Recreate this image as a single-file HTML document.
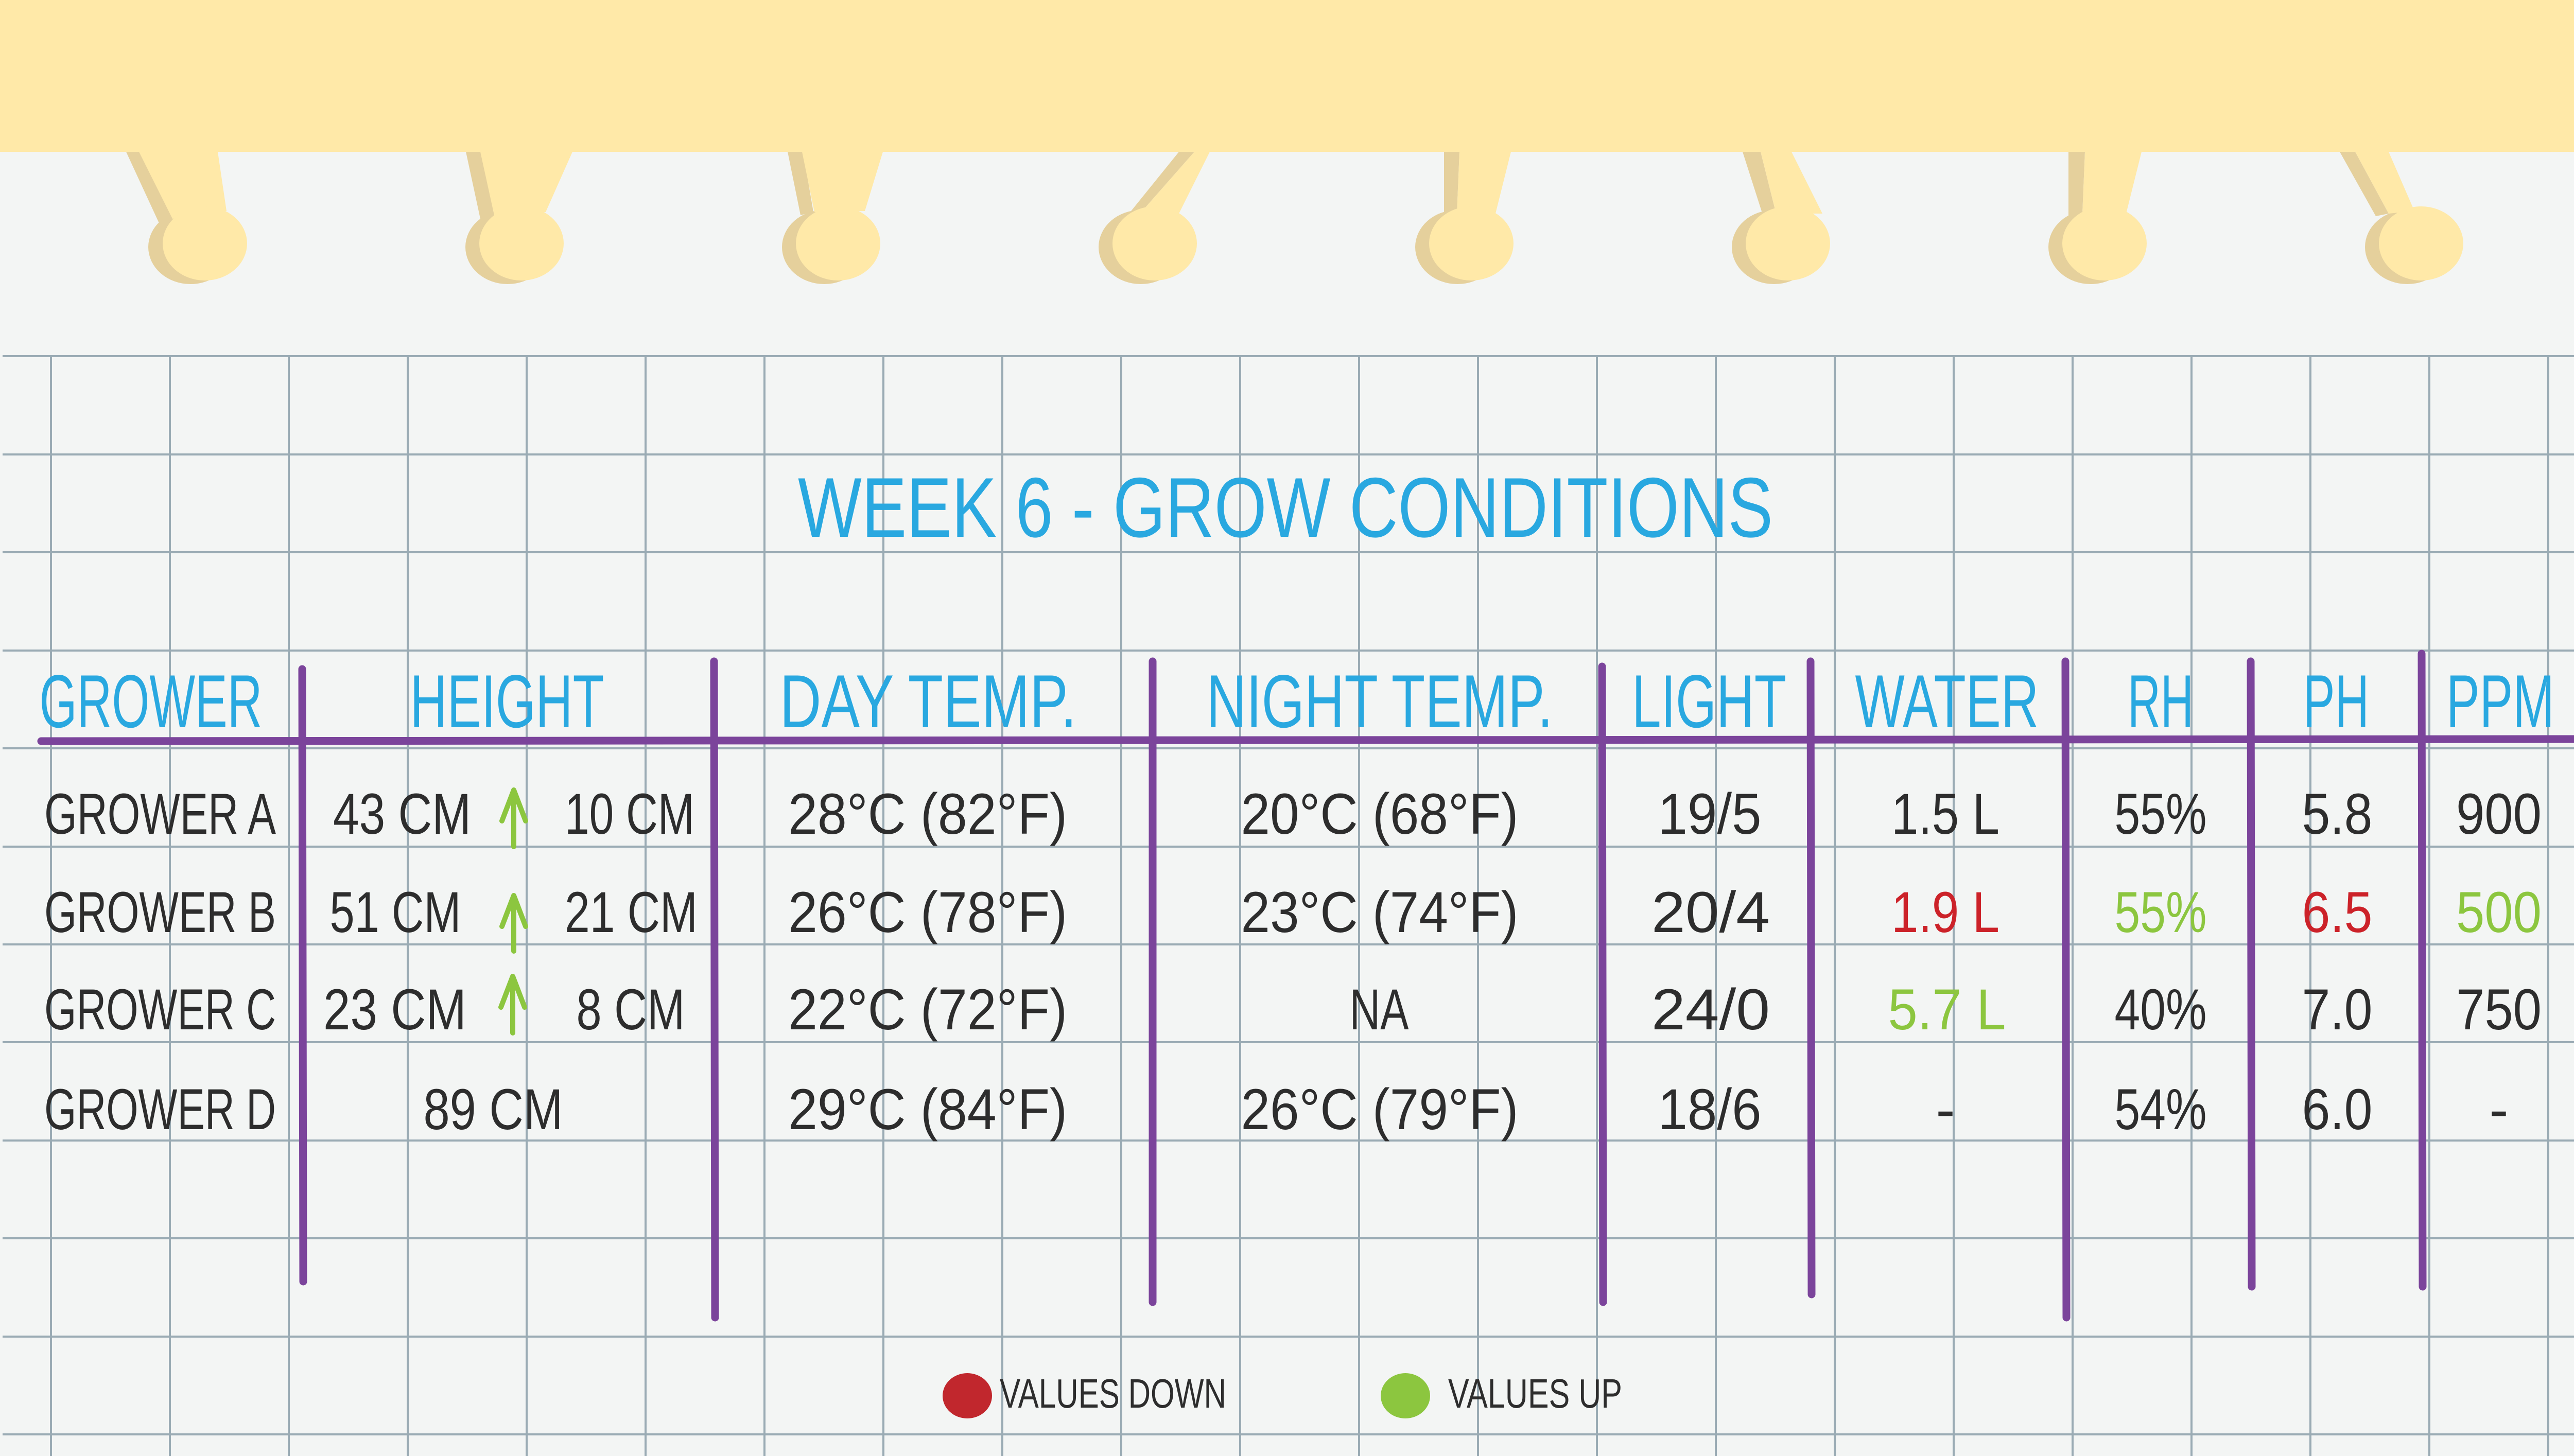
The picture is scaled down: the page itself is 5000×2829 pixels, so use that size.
<!DOCTYPE html>
<html><head><meta charset="utf-8"><style>
html,body{margin:0;padding:0;background:#f3f5f4;}
svg{display:block}
text{font-family:"Liberation Sans Narrow","Liberation Sans",sans-serif;}
</style></head><body>
<svg width="5000" height="2829" viewBox="0 0 5000 2829" xmlns="http://www.w3.org/2000/svg">
<rect width="5000" height="2829" fill="#f3f5f4"/>
<g stroke="#9aabb4" stroke-width="4">
<line x1="5" y1="692" x2="5000" y2="692"/><line x1="5" y1="883" x2="5000" y2="883"/><line x1="5" y1="1073" x2="5000" y2="1073"/><line x1="5" y1="1264" x2="5000" y2="1264"/><line x1="5" y1="1454" x2="5000" y2="1454"/><line x1="5" y1="1645" x2="5000" y2="1645"/><line x1="5" y1="1835" x2="5000" y2="1835"/><line x1="5" y1="2025" x2="5000" y2="2025"/><line x1="5" y1="2216" x2="5000" y2="2216"/><line x1="5" y1="2406" x2="5000" y2="2406"/><line x1="5" y1="2597" x2="5000" y2="2597"/><line x1="5" y1="2787" x2="5000" y2="2787"/>
<line x1="99" y1="692" x2="99" y2="2829"/><line x1="330" y1="692" x2="330" y2="2829"/><line x1="561" y1="692" x2="561" y2="2829"/><line x1="792" y1="692" x2="792" y2="2829"/><line x1="1023" y1="692" x2="1023" y2="2829"/><line x1="1254" y1="692" x2="1254" y2="2829"/><line x1="1485" y1="692" x2="1485" y2="2829"/><line x1="1716" y1="692" x2="1716" y2="2829"/><line x1="1947" y1="692" x2="1947" y2="2829"/><line x1="2178" y1="692" x2="2178" y2="2829"/><line x1="2409" y1="692" x2="2409" y2="2829"/><line x1="2640" y1="692" x2="2640" y2="2829"/><line x1="2871" y1="692" x2="2871" y2="2829"/><line x1="3102" y1="692" x2="3102" y2="2829"/><line x1="3333" y1="692" x2="3333" y2="2829"/><line x1="3564" y1="692" x2="3564" y2="2829"/><line x1="3795" y1="692" x2="3795" y2="2829"/><line x1="4026" y1="692" x2="4026" y2="2829"/><line x1="4257" y1="692" x2="4257" y2="2829"/><line x1="4488" y1="692" x2="4488" y2="2829"/><line x1="4719" y1="692" x2="4719" y2="2829"/><line x1="4950" y1="692" x2="4950" y2="2829"/>
</g>
<rect x="0" y="0" width="5000" height="295" fill="#ffe9a8"/>
<g>
<g fill="#e5d09c">
<polygon points="245,295 290,295 335,422 312,440"/><ellipse cx="370" cy="480" rx="82" ry="72"/>
<polygon points="905,295 935,295 960,418 933,425"/><ellipse cx="986" cy="480" rx="82" ry="72"/>
<polygon points="1530,295 1560,295 1580,412 1555,418"/><ellipse cx="1601" cy="480" rx="82" ry="72"/>
<polygon points="2290,295 2320,295 2210,420 2185,425"/><ellipse cx="2216" cy="480" rx="82" ry="72"/>
<polygon points="2805,295 2835,295 2830,415 2805,420"/><ellipse cx="2831" cy="480" rx="82" ry="72"/>
<polygon points="3385,295 3420,295 3450,415 3425,420"/><ellipse cx="3446" cy="480" rx="82" ry="72"/>
<polygon points="4018,295 4050,295 4045,415 4018,420"/><ellipse cx="4061" cy="480" rx="82" ry="72"/>
<polygon points="4545,295 4575,295 4640,415 4615,420"/><ellipse cx="4676" cy="480" rx="82" ry="72"/>
</g>
<g fill="#ffe9a8">
<polygon points="270,295 423,295 440,410 335,425"/><ellipse cx="398" cy="473" rx="82" ry="72"/>
<polygon points="933,295 1112,295 1060,412 960,418"/><ellipse cx="1013" cy="473" rx="82" ry="72"/>
<polygon points="1558,295 1715,295 1680,410 1582,412"/><ellipse cx="1628" cy="473" rx="82" ry="72"/>
<polygon points="2320,295 2350,295 2290,415 2210,420"/><ellipse cx="2243" cy="473" rx="82" ry="72"/>
<polygon points="2835,295 2935,295 2905,415 2830,415"/><ellipse cx="2858" cy="473" rx="82" ry="72"/>
<polygon points="3420,295 3480,295 3540,415 3450,415"/><ellipse cx="3473" cy="473" rx="82" ry="72"/>
<polygon points="4050,295 4160,295 4130,415 4045,415"/><ellipse cx="4088" cy="473" rx="82" ry="72"/>
<polygon points="4575,295 4640,295 4690,410 4640,415"/><ellipse cx="4703" cy="473" rx="82" ry="72"/>
</g>
</g>
<text x="2497" y="1043" font-size="165" fill="#29a8e0" text-anchor="middle" textLength="1894" lengthAdjust="spacingAndGlyphs">WEEK 6 - GROW CONDITIONS</text>
<g font-size="146" fill="#29a8e0" text-anchor="middle">
<text x="293" y="1413" textLength="433" lengthAdjust="spacingAndGlyphs">GROWER</text>
<text x="985" y="1413" textLength="377" lengthAdjust="spacingAndGlyphs">HEIGHT</text>
<text x="1803" y="1413" textLength="577" lengthAdjust="spacingAndGlyphs">DAY TEMP.</text>
<text x="2680" y="1413" textLength="673" lengthAdjust="spacingAndGlyphs">NIGHT TEMP.</text>
<text x="3320" y="1413" textLength="300" lengthAdjust="spacingAndGlyphs">LIGHT</text>
<text x="3782" y="1413" textLength="357" lengthAdjust="spacingAndGlyphs">WATER</text>
<text x="4197" y="1413" textLength="128" lengthAdjust="spacingAndGlyphs">RH</text>
<text x="4538" y="1413" textLength="128" lengthAdjust="spacingAndGlyphs">PH</text>
<text x="4857" y="1413" textLength="210" lengthAdjust="spacingAndGlyphs">PPM</text>
</g>
<g stroke="#7b449b" stroke-width="15" stroke-linecap="round">
<line x1="80" y1="1440" x2="5000" y2="1436"/>
<line x1="587" y1="1300" x2="589" y2="2490"/>
<line x1="1387" y1="1285" x2="1389" y2="2560"/>
<line x1="2239" y1="1285" x2="2239" y2="2530"/>
<line x1="3112" y1="1295" x2="3114" y2="2530"/>
<line x1="3517" y1="1285" x2="3519" y2="2515"/>
<line x1="4012" y1="1285" x2="4014" y2="2560"/>
<line x1="4372" y1="1285" x2="4374" y2="2500"/>
<line x1="4704" y1="1270" x2="4706" y2="2500"/>
</g>
<g font-size="112" fill="#2d2d2d" text-anchor="middle">
<text x="311" y="1620" textLength="450" lengthAdjust="spacingAndGlyphs">GROWER A</text>
<text x="311" y="1811" textLength="450" lengthAdjust="spacingAndGlyphs">GROWER B</text>
<text x="311" y="2000" textLength="450" lengthAdjust="spacingAndGlyphs">GROWER C</text>
<text x="311" y="2194" textLength="450" lengthAdjust="spacingAndGlyphs">GROWER D</text>
<text x="781" y="1620" textLength="268" lengthAdjust="spacingAndGlyphs">43 CM</text>
<text x="1223" y="1620" textLength="252" lengthAdjust="spacingAndGlyphs">10 CM</text>
<text x="768" y="1811" textLength="255" lengthAdjust="spacingAndGlyphs">51 CM</text>
<text x="1226" y="1811" textLength="258" lengthAdjust="spacingAndGlyphs">21 CM</text>
<text x="767" y="2000" textLength="278" lengthAdjust="spacingAndGlyphs">23 CM</text>
<text x="1225" y="2000" textLength="211" lengthAdjust="spacingAndGlyphs">8 CM</text>
<text x="958" y="2194" textLength="271" lengthAdjust="spacingAndGlyphs">89 CM</text>
<text x="1802" y="1620" textLength="542" lengthAdjust="spacingAndGlyphs">28°C (82°F)</text>
<text x="1802" y="1811" textLength="542" lengthAdjust="spacingAndGlyphs">26°C (78°F)</text>
<text x="1802" y="2000" textLength="542" lengthAdjust="spacingAndGlyphs">22°C (72°F)</text>
<text x="1802" y="2194" textLength="542" lengthAdjust="spacingAndGlyphs">29°C (84°F)</text>
<text x="2680" y="1620" textLength="539" lengthAdjust="spacingAndGlyphs">20°C (68°F)</text>
<text x="2680" y="1811" textLength="539" lengthAdjust="spacingAndGlyphs">23°C (74°F)</text>
<text x="2679" y="2000" textLength="115" lengthAdjust="spacingAndGlyphs">NA</text>
<text x="2680" y="2194" textLength="539" lengthAdjust="spacingAndGlyphs">26°C (79°F)</text>
<text x="3321" y="1620" textLength="201" lengthAdjust="spacingAndGlyphs">19/5</text>
<text x="3323" y="1811" textLength="230" lengthAdjust="spacingAndGlyphs">20/4</text>
<text x="3323" y="2000" textLength="230" lengthAdjust="spacingAndGlyphs">24/0</text>
<text x="3321" y="2194" textLength="201" lengthAdjust="spacingAndGlyphs">18/6</text>
<text x="3779" y="1620" textLength="210" lengthAdjust="spacingAndGlyphs">1.5 L</text>
<text x="3779" y="1811" textLength="210" lengthAdjust="spacingAndGlyphs" fill="#cc2229">1.9 L</text>
<text x="3782" y="2000" textLength="229" lengthAdjust="spacingAndGlyphs" fill="#8cc63f">5.7 L</text>
<text x="3779" y="2194">-</text>
<text x="4197" y="1620" textLength="179" lengthAdjust="spacingAndGlyphs">55%</text>
<text x="4197" y="1811" textLength="179" lengthAdjust="spacingAndGlyphs" fill="#8cc63f">55%</text>
<text x="4197" y="2000" textLength="179" lengthAdjust="spacingAndGlyphs">40%</text>
<text x="4197" y="2194" textLength="179" lengthAdjust="spacingAndGlyphs">54%</text>
<text x="4540" y="1620" textLength="137" lengthAdjust="spacingAndGlyphs">5.8</text>
<text x="4540" y="1811" textLength="137" lengthAdjust="spacingAndGlyphs" fill="#cc2229">6.5</text>
<text x="4540" y="2000" textLength="137" lengthAdjust="spacingAndGlyphs">7.0</text>
<text x="4540" y="2194" textLength="137" lengthAdjust="spacingAndGlyphs">6.0</text>
<text x="4854" y="1620" textLength="166" lengthAdjust="spacingAndGlyphs">900</text>
<text x="4854" y="1811" textLength="166" lengthAdjust="spacingAndGlyphs" fill="#8cc63f">500</text>
<text x="4854" y="2000" textLength="166" lengthAdjust="spacingAndGlyphs">750</text>
<text x="4854" y="2194">-</text>
</g>
<g stroke="#8cc63f" stroke-width="10" stroke-linecap="round" stroke-linejoin="round" fill="none">
<path d="M998 1645 V1535 M975 1595 L998 1535 L1021 1595"/>
<path d="M998 1848 V1740 M975 1800 L998 1740 L1021 1800"/>
<path d="M996 2007 V1897 M973 1957 L996 1897 L1019 1957"/>
</g>
<ellipse cx="1879" cy="2712" rx="48" ry="44" fill="#c1272d"/>
<text x="2162" y="2735" font-size="80" fill="#2d2d2d" text-anchor="middle" textLength="440" lengthAdjust="spacingAndGlyphs">VALUES DOWN</text>
<ellipse cx="2730" cy="2712" rx="48" ry="44" fill="#8cc63f"/>
<text x="2982" y="2735" font-size="80" fill="#2d2d2d" text-anchor="middle" textLength="338" lengthAdjust="spacingAndGlyphs">VALUES UP</text>
</svg>
</body></html>
